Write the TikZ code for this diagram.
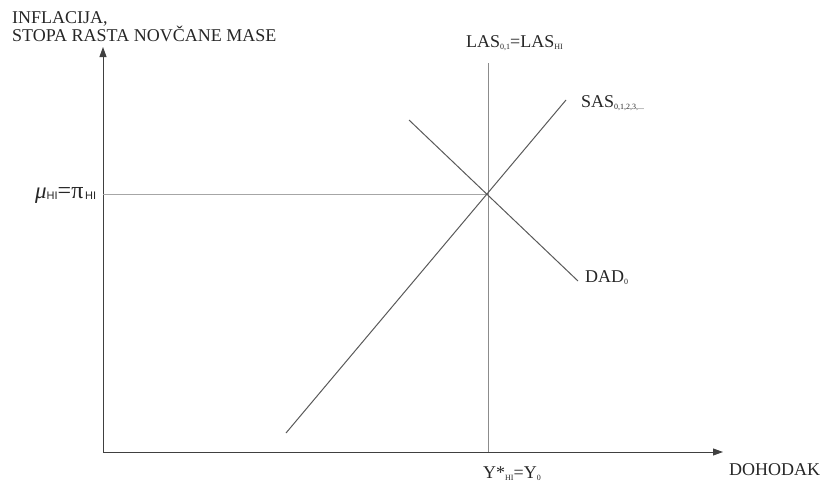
\documentclass[tikz,border=0pt]{standalone}
\usepackage{fontspec}
\setmainfont{Liberation Serif}
\newfontfamily\symsans{Liberation Sans}
\usetikzlibrary{arrows.meta}
\newcommand{\lsub}[1]{\raisebox{-2.5pt}{\fontsize{8}{8}\selectfont #1}}
\begin{document}
\begin{tikzpicture}[x=1pt,y=-1pt,
  lbl/.style={inner sep=0pt,font=\fontsize{18}{18}\selectfont,text=black!85},
  axis/.style={draw=black!75,line width=0.9pt,-{Triangle[length=10pt,width=7pt]}},
  curve/.style={draw=black!65,line width=1pt},
  guide/.style={draw=black!45,line width=0.9pt},
  thin/.style={draw=black!35,line width=0.5pt}]
\useasboundingbox (0,0) rectangle (820,482);
% named points
\coordinate (O) at (103,452);
\coordinate (ytip) at (103,47);
\coordinate (xtip) at (723,452);
\coordinate (E) at (488,194);
\coordinate (mu) at (103,194);
\coordinate (lastop) at (488,63);
\coordinate (lasbot) at (488,452);
\coordinate (sasA) at (286,433);
\coordinate (sasB) at (566,100);
\coordinate (dadA) at (409,120);
\coordinate (dadB) at (578,281);
% axes
\draw[axis] (O) -- (ytip);
\draw[axis] (O) -- (xtip);
% curves
\draw[guide] (lastop) -- (lasbot);
\draw[thin] (mu) -- (E);
\draw[curve] (sasA) -- (sasB);
\draw[curve] (dadA) -- (dadB);
% labels
\node[lbl,anchor=base west] (ylab) at (12,23) {INFLACIJA,};
\node[lbl,anchor=base west] (ylab2) at (12,41) {STOPA RASTA NOVČANE MASE};
\node[lbl,anchor=base west] (xlab) at (729,475) {DOHODAK};
\node[lbl,anchor=base west] (laslab) at (466,47) {LAS\lsub{0,1}=LAS\lsub{HI}};
\node[lbl,anchor=base west] (saslab) at (581,107) {SAS\lsub{0,1,2,3,...}};
\node[lbl,anchor=base west] (dadlab) at (585,282) {DAD\lsub{0}};
\node[lbl,anchor=base west] (ylab0) at (483,478) {Y*\lsub{HI}=Y\lsub{0}};
\node[lbl,anchor=base west] (mulab) at (35,198) {{\fontsize{23}{23}\selectfont\itshape μ}\raisebox{-1pt}{\symsans\fontsize{11}{11}\selectfont HI}{\fontsize{24}{24}\selectfont =π}\raisebox{-1pt}{\symsans\fontsize{11}{11}\selectfont\,HI}};
\end{tikzpicture}
\end{document}
